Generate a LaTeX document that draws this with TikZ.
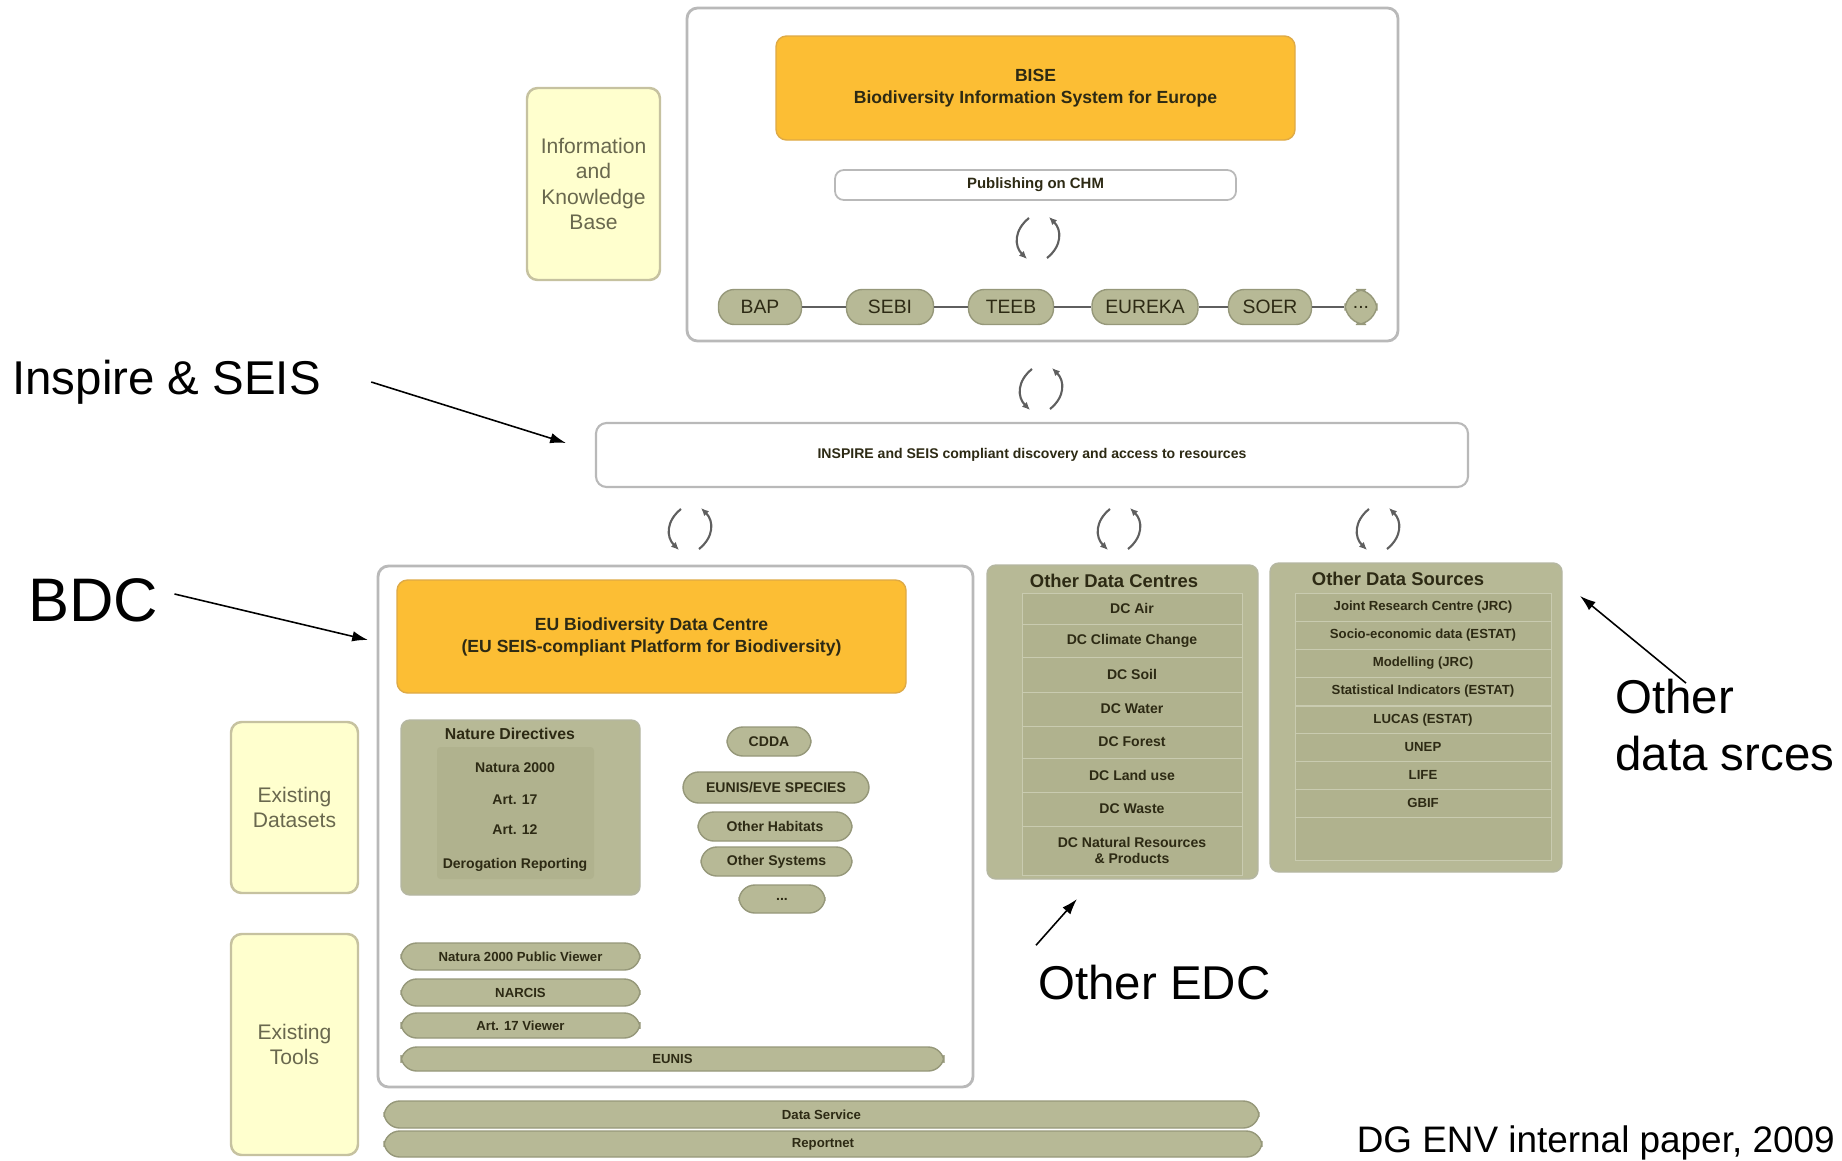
\documentclass[tikz,border=0pt]{standalone}
\usepackage{fontspec}
\setmainfont{Liberation Sans}
\usetikzlibrary{arrows.meta}

\definecolor{bisegold}{RGB}{252,190,52}
\definecolor{goldedge}{RGB}{222,170,70}
\definecolor{sage}{RGB}{183,185,150}
\definecolor{sagerow}{RGB}{176,178,142}
\definecolor{sageedge}{RGB}{150,152,122}
\definecolor{cream}{RGB}{255,255,206}
\definecolor{creamedge}{RGB}{198,194,160}
\definecolor{panelgray}{RGB}{185,185,185}
\definecolor{inktext}{RGB}{45,42,20}
\definecolor{kbtext}{RGB}{105,104,78}
\definecolor{cyclegray}{RGB}{95,95,95}

\begin{document}
\begin{tikzpicture}[x=0.02cm, y=-0.02cm,
  wh/.style 2 args={minimum width=#1*0.02cm, minimum height=#2*0.02cm},
  panel/.style={draw=panelgray, line width=1.6pt, fill=white, rounded corners=6pt, inner sep=0pt},
  goldbox/.style={draw=goldedge, line width=0.8pt, fill=bisegold, rounded corners=6pt, inner sep=0pt,
    align=center, text=inktext, font=\bfseries\fontsize{10}{12.5}\selectfont},
  kbbox/.style={draw=creamedge, line width=1.4pt, fill=cream, rounded corners=6pt, inner sep=0pt,
    align=center, text=kbtext, font=\fontsize{12}{14.5}\selectfont},
  pill/.style={draw=sageedge, line width=0.8pt, fill=sage, rounded corners=9pt, inner sep=0pt,
    text=inktext, font=\bfseries\fontsize{8}{9}\selectfont},
  sagepanel/.style={draw=sageedge!70, line width=0.8pt, fill=sage, rounded corners=5pt, inner sep=0pt},
  row/.style={draw=sage!75!white, line width=0.5pt, fill=sagerow, inner sep=0pt, align=center,
    text=inktext, font=\bfseries\fontsize{8}{9.5}\selectfont},
  head/.style={text=inktext, font=\bfseries\fontsize{10.5}{12}\selectfont},
  callout/.style={anchor=west, align=left, inner sep=0pt, font=\fontsize{27}{32}\selectfont},
  pointer/.style={-{Latex[length=9pt, width=6pt]}, line width=0.9pt},
  chainline/.style={draw=cyclegray, line width=0.7pt},
  cyclearrow/.style={-{Latex[length=4.5pt, width=4pt]}, draw=cyclegray, line width=1.2pt}]

\useasboundingbox (0,0) rectangle (1842,1160);

% BISE on top
\node[panel, wh={711}{333}] (bisepanel) at (1042.5,174.5) {};
\node[goldbox, wh={519}{104}] (bise) at (1035.5,88) {BISE\\Biodiversity Information System for Europe};
\node[draw=panelgray, line width=1pt, rounded corners=5pt, wh={401}{30}, inner sep=0pt,
  text=inktext, font=\bfseries\fontsize{8.5}{10}\selectfont] (chm) at (1035.5,185) {Publishing on CHM};

\node[pill, wh={83}{35}, font=\fontsize{11}{12}\selectfont] (bap) at (760,307) {BAP};
\node[pill, wh={87}{35}, font=\fontsize{11}{12}\selectfont] (sebi) at (890,307) {SEBI};
\node[pill, wh={85}{35}, font=\fontsize{11}{12}\selectfont] (teeb) at (1011,307) {TEEB};
\node[pill, wh={106}{35}, font=\fontsize{11}{12}\selectfont] (eureka) at (1145,307) {EUREKA};
\node[pill, wh={83}{35}, font=\fontsize{11}{12}\selectfont] (soer) at (1270,307) {SOER};
\node[pill, wh={32}{35}, rounded corners=12pt, font=\fontsize{11}{12}\selectfont] (chainmore) at (1361,307) {...};
\foreach \a/\b in {bap/sebi, sebi/teeb, teeb/eureka, eureka/soer, soer/chainmore}
  \draw[chainline] (\a) -- (\b);

\node[kbbox, wh={133}{192}] (kbase) at (593.5,184) {Information\\and\\Knowledge\\Base};

% discovery layer
\node[panel, line width=1.2pt, wh={872}{64}, text=inktext, font=\bfseries\fontsize{8}{10}\selectfont] (inspire) at (1032,455)
  {INSPIRE and SEIS compliant discovery and access to resources};

\foreach \cx/\cy in {1038/238, 1041/389, 690/529, 1119/529, 1378/529}{
  \draw[cyclearrow] (\cx-9,\cy-20) .. controls (\cx-24,\cy-8) and (\cx-24,\cy+8) .. (\cx-11,\cy+21);
  \draw[cyclearrow] (\cx+9,\cy+20) .. controls (\cx+24,\cy+8) and (\cx+24,\cy-8) .. (\cx+11,\cy-21);
}

% data centre
\node[panel, wh={595}{521}] (bdcpanel) at (675.5,826.5) {};
\node[goldbox, wh={509}{113}] (bdc) at (651.5,636.5) {EU Biodiversity Data Centre\\(EU SEIS-compliant Platform for Biodiversity)};

\node[sagepanel, wh={239}{175}] (natdir) at (520.5,807.5) {};
\node[row, draw=none, wh={157}{132}, rounded corners=2pt] (natin) at (515.5,813) {};
\node[head, font=\bfseries\fontsize{9}{10}\selectfont] (natdirhead) at (510,734) {Nature Directives};
\node[text=inktext, font=\bfseries\fontsize{8}{9}\selectfont] (natura) at (515,768) {Natura 2000};
\node[text=inktext, font=\bfseries\fontsize{8}{9}\selectfont] (art17) at (515,800) {Art. 17};
\node[text=inktext, font=\bfseries\fontsize{8}{9}\selectfont] (art12) at (515,830) {Art. 12};
\node[text=inktext, font=\bfseries\fontsize{8}{9}\selectfont] (derog) at (515,865) {Derogation Reporting};

\node[pill, wh={84}{29}] (cdda) at (769,741.5) {CDDA};
\node[pill, wh={186}{31}] (species) at (776,787.5) {EUNIS/EVE SPECIES};
\node[pill, wh={154}{29}] (habitats) at (775,826.5) {Other Habitats};
\node[pill, wh={151}{29}] (systems) at (776.5,861.5) {Other Systems};
\node[pill, wh={86}{28}] (bdcmore) at (782,899) {...};

\node[pill, wh={239}{27}, font=\bfseries\fontsize{7.5}{9}\selectfont] (viewer) at (520.5,956.5) {Natura 2000 Public Viewer};
\node[pill, wh={239}{27}, font=\bfseries\fontsize{7.5}{9}\selectfont] (narcis) at (520.5,992.5) {NARCIS};
\node[pill, wh={239}{25}, font=\bfseries\fontsize{7.5}{9}\selectfont] (art17tool) at (520.5,1025.5) {Art. 17 Viewer};
\node[pill, wh={543}{24}, font=\bfseries\fontsize{7.5}{9}\selectfont] (eunis) at (672.5,1059) {EUNIS};

\node[pill, wh={875}{27}, font=\bfseries\fontsize{7.5}{9}\selectfont] (dataserv) at (821.5,1114.5) {Data Service};
\node[pill, wh={878}{26}, font=\bfseries\fontsize{7.5}{9}\selectfont] (reportnet) at (823,1144) {Reportnet};

\node[kbbox, wh={127}{171}] (datasets) at (294.5,807.5) {Existing\\Datasets};
\node[kbbox, wh={127}{221}] (tools) at (294.5,1044.5) {Existing\\Tools};

% other centres and sources
\node[sagepanel, wh={271}{314}] (odc) at (1122.5,722) {};
\node[head] (odchead) at (1114,581) {Other Data Centres};
\foreach \y/\h/\name/\txt in {608.5/31/dcair/DC Air, 640.5/33/dcclim/DC Climate Change, 674.5/35/dcsoil/DC Soil,
    709/34/dcwater/DC Water, 742/32/dcforest/DC Forest, 775/34/dcland/DC Land use, 809/34/dcwaste/DC Waste,
    850.5/49/dcres/{DC Natural Resources\\\& Products}}
  \node[row, wh={220}{\h}] (\name) at (1132,\y) {\txt};

\node[sagepanel, wh={292}{309}] (ods) at (1416,717.5) {};
\node[head] (odshead) at (1398,579) {Other Data Sources};
\foreach \y/\name/\txt in {607/srcjrc/Joint Research Centre (JRC), 635/srcsocio/Socio-economic data (ESTAT),
    663/srcmodel/Modelling (JRC), 691.5/srcstat/Statistical Indicators (ESTAT), 720/srclucas/LUCAS (ESTAT),
    747.5/srcunep/UNEP, 775/srclife/LIFE, 803/srcgbif/GBIF}
  \node[row, wh={256}{28}, font=\bfseries\fontsize{7.5}{9}\selectfont] (\name) at (1423,\y) {\txt};
\node[row, wh={256}{43}] (srcrest) at (1423,838.5) {};

% callouts
\node[callout] (lblinspire) at (12,382) {Inspire \& SEIS};
\node[callout, font=\fontsize{35}{40}\selectfont] (lblbdc) at (28,600) {BDC};
\node[callout] (lblods) at (1615,725) {Other\\data srces};
\node[callout] (lbledc) at (1038,983) {Other EDC};
\node[anchor=east, inner sep=0pt, font=\fontsize{21}{24}\selectfont] (credit) at (1835,1143) {DG ENV internal paper, 2009};

\coordinate (inspiretip) at (566,443);
\coordinate (bdctip) at (368,640);
\coordinate (odstip) at (1580,596);
\coordinate (edctip) at (1077,899);
\draw[pointer] (lblinspire.east) ++(50,0) -- (inspiretip);
\draw[pointer] (lblbdc.east) ++(16,-6) -- (bdctip);
\draw[pointer] (lblods.north west) ++(71,4) -- (odstip);
\draw[pointer] (lbledc.north west) ++(-2,-20) -- (edctip);
\end{tikzpicture}
\end{document}
